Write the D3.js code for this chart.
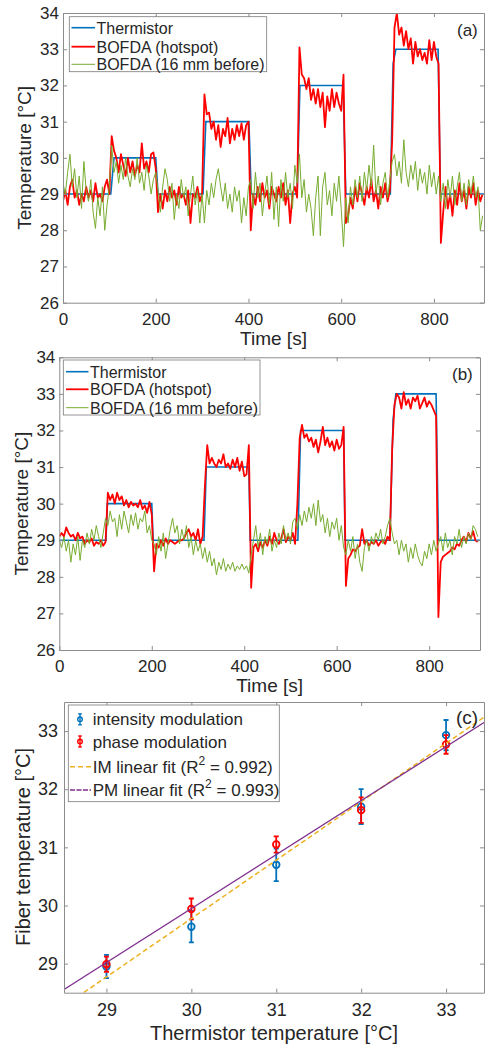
<!DOCTYPE html>
<html>
<head>
<meta charset="utf-8">
<script src="https://cdn.jsdelivr.net/npm/d3@7"></script>
<style>
  body { margin: 0; background: #fff; }
  svg text { font-family: "Liberation Sans", Arial, Helvetica, sans-serif; fill: #262626; }
</style>
</head>
<body>
<svg id="fig" width="485" height="1047"></svg>
<script>
// sampling step of the BOFDA traces [s]
const dt = 5;

// panel (a) -- thermistor set points (step times and values)
const thermA_t = [0, 103, 110, 200, 205, 302, 308, 401, 406, 505, 511, 604, 610, 706, 712, 718, 809, 814, 908];
const thermA_v = [29, 29, 30, 30, 29, 29, 31, 31, 29, 29, 32, 32, 29, 29, 32.6, 33, 33, 29, 29];

// panel (a) -- BOFDA hotspot, one value every dt seconds
const redA = [
  28.8, 29.1, 28.7, 29.2, 29.4, 28.9, 29.1, 28.7, 29.0, 28.8, 29.2, 28.9, 29.1, 28.8, 29.3, 28.9, 29.0, 28.8, 29.2, 29.4,
  29.0, 30.6, 30.2, 30.0, 29.6, 30.1, 29.8, 29.5, 30.0, 29.6, 29.9, 29.5, 29.8, 29.6, 30.4, 29.7, 29.9, 29.6, 30.1, 30.15,
  29.7, 28.5, 29.0, 28.6, 29.1, 28.8, 29.2, 28.9, 29.1, 28.7, 29.2, 28.9, 29.0, 28.7, 29.1, 28.2, 29.0, 28.9, 29.2, 28.8,
  29.0, 31.75, 31.2, 31.25, 30.8, 31.0, 30.5, 30.9, 30.3, 30.8, 30.6, 31.1, 30.4, 30.8, 30.5, 30.9, 30.6, 30.95, 30.5, 30.9,
  31.0, 28.0, 29.0, 28.7, 29.2, 28.8, 29.3, 28.9, 29.1, 28.6, 29.2, 29.0, 28.8, 29.2, 28.9, 29.3, 28.7, 29.1, 28.2, 29.0,
  29.2, 28.9, 33.05, 32.3, 32.2, 31.9, 32.2, 31.6, 31.9, 31.5, 31.9, 31.4, 31.8, 30.85, 31.7, 31.3, 31.9, 31.4, 31.8, 31.5,
  31.3, 32.3, 28.2, 28.4, 28.9, 28.6, 29.2, 28.8, 29.3, 29.0, 28.7, 29.2, 28.9, 29.4, 28.8, 29.1, 28.6, 29.2, 28.9, 29.3,
  28.8, 29.1, 30.5, 33.6, 34.0, 33.4, 33.6, 33.1, 33.5, 33.0, 33.3, 32.6, 33.2, 32.8, 33.0, 32.7, 32.9, 32.6, 33.25, 32.7,
  33.2, 32.8, 32.6, 27.65, 28.5, 29.2, 28.6, 29.0, 28.4, 29.1, 28.7, 29.3, 28.8, 29.1, 28.6, 29.2, 28.9, 29.3, 28.7, 29.1,
  28.8, 29.0
];

// panel (a) -- BOFDA 16 mm before the hotspot
const greenA = [
  29.3, 29.0, 29.6, 30.1, 29.2, 29.7, 28.9, 29.5, 28.6, 29.9, 29.1, 28.8, 29.4, 28.5, 28.05, 28.9, 28.4, 29.2, 28.0, 28.7,
  29.2, 30.35, 29.6, 29.9, 29.3, 29.8, 29.4, 30.0, 29.5, 29.2, 29.7, 29.4, 30.0, 29.3, 29.6, 29.1, 29.8, 29.5, 29.0, 29.4,
  29.6, 29.1, 28.5, 29.2, 29.7, 29.4, 28.8, 29.3, 28.3, 29.0, 28.6, 29.4, 28.9, 29.2, 28.4, 29.0, 29.5, 28.7, 29.1, 28.2,
  29.0, 28.2, 29.1, 28.7, 29.3, 28.9, 29.4, 29.7, 29.2, 28.8, 29.3, 28.6, 29.0, 28.5, 29.2, 28.8, 29.1, 28.2, 28.9, 28.4,
  29.2, 29.4, 28.6, 29.6, 28.9, 29.3, 28.4, 29.0, 29.5, 28.7, 29.6, 28.3, 29.2, 28.1, 29.4, 28.8, 29.6, 28.9, 29.3, 28.6,
  29.8, 29.3, 30.1, 28.9, 29.4, 28.5, 29.0, 28.6, 27.85, 28.9, 29.5, 27.85, 29.2, 29.6, 28.7, 29.1, 28.4, 29.3, 28.8, 29.5,
  28.6, 27.55, 28.9, 28.2, 29.2, 28.7, 29.4, 28.9, 29.5, 28.8, 29.6, 29.1, 29.8, 29.2, 30.35, 29.0, 29.5, 28.7, 29.3, 29.6,
  28.9, 29.4, 29.9, 30.1, 29.5, 29.9, 29.3, 30.5, 29.6, 29.2, 29.8, 29.4, 29.9, 29.1, 29.7, 29.3, 29.6, 29.0, 29.8, 29.2,
  29.6, 29.0, 29.5, 28.8, 29.3, 28.6, 29.4, 28.9, 29.5, 28.7, 29.2, 29.6, 28.8, 29.3, 28.7, 29.4, 29.0, 29.5, 28.9, 29.2,
  28.0, 28.4
];

// panel (b) -- thermistor set points
const thermB_t = [0, 101, 104, 200, 203, 313, 318, 410, 413, 516, 522, 615, 618, 715, 722, 728, 815, 820, 910];
const thermB_v = [29, 29, 30, 30, 29, 29, 31, 31, 29, 29, 32, 32, 29, 29, 32.3, 33, 33, 29, 29];

// panel (b) -- BOFDA hotspot
const redB = [
  29.1, 29.2, 29.1, 29.35, 29.2, 29.1, 29.15, 29.0, 29.2, 29.05, 29.1, 28.9, 29.0, 28.95, 29.05, 28.85, 28.95, 28.9, 29.0, 28.85,
  28.95, 30.3, 30.1, 30.25, 30.0, 30.3, 30.1, 30.2, 29.95, 30.1, 29.9, 30.05, 29.95, 30.0, 29.9, 30.1, 29.85, 29.95, 29.75, 30.05,
  29.7, 28.15, 28.9, 28.8, 29.0, 28.85, 29.05, 28.9, 29.0, 28.95, 28.9, 28.95, 29.0, 29.0, 29.05, 29.2, 29.3, 29.1, 29.2, 29.0,
  29.3, 28.9, 29.1, 30.5, 31.6, 31.1, 31.25, 31.1, 31.0, 31.2, 31.1, 31.35, 31.0, 31.1, 30.95, 31.2, 31.0, 31.25, 30.9, 31.15,
  30.75, 30.8, 31.6, 27.7, 28.8, 28.9, 28.7, 28.95, 28.8, 29.0, 28.85, 29.1, 28.9, 29.2, 29.0, 28.9, 29.05, 29.3, 28.95, 29.1,
  29.0, 29.2, 28.9, 30.0, 31.8, 32.15, 31.8, 31.9, 31.7, 31.8, 31.55, 31.75, 31.4, 31.7, 32.1, 31.6, 31.8, 31.55, 31.7, 31.45,
  31.75, 31.5, 31.6, 32.1, 27.75, 28.5, 28.6, 28.75, 28.7, 28.8, 28.85, 29.3, 28.9, 29.0, 28.85, 28.95, 28.9, 29.0, 28.85, 28.95,
  29.0, 28.9, 29.1, 29.0, 31.5, 32.7, 33.0, 32.9, 32.6, 33.05, 32.7, 32.85, 32.6, 32.9, 32.8, 32.95, 32.6, 32.75, 32.9, 32.65,
  32.8, 32.7, 32.55, 32.4, 26.9, 28.4, 28.55, 28.6, 28.65, 28.7, 28.8, 28.75, 28.9, 28.85, 29.0, 29.1, 28.95, 29.2, 29.05, 29.25,
  29.0, 28.95
];

// panel (b) -- BOFDA 16 mm before
const greenB = [
  29.0, 28.8, 29.1, 28.7, 29.0, 28.4, 28.9, 28.6, 29.1, 28.45, 29.0, 28.8, 29.2, 28.9, 29.3, 29.0, 29.4, 29.1, 28.8, 29.2,
  29.6, 29.4, 29.8, 29.5, 29.6, 29.1, 29.7, 29.3, 29.8, 29.5, 29.2, 29.7, 29.4, 29.75, 29.3, 29.6, 29.5, 29.8, 29.2, 29.4,
  29.0, 28.9, 28.6, 29.1, 28.7, 29.2, 28.5, 28.9, 29.3, 29.6, 29.2, 29.4, 28.9, 29.3, 29.0, 29.4, 28.8, 29.1, 28.6, 29.0,
  28.7, 28.9, 28.5, 28.8, 28.4, 28.7, 28.3, 28.5, 28.05, 28.4, 28.2, 28.5, 28.15, 28.35, 28.2, 28.4, 28.15, 28.3, 28.2, 28.35,
  28.2, 28.3, 28.1, 28.6, 29.0, 29.4, 28.8, 29.2, 28.6, 29.1, 28.9, 29.3, 28.7, 29.0, 28.8, 29.2, 28.9, 29.4, 29.0, 29.2,
  28.9, 29.5, 29.6, 29.3, 29.7, 29.4, 29.8, 29.5, 29.9, 29.6, 30.0, 29.4, 30.1, 29.5, 29.7, 29.2, 29.6, 29.1, 29.5, 29.3,
  29.6, 29.0, 29.4, 28.8, 28.6, 29.0, 28.7, 29.1, 28.5, 28.9, 28.4, 28.15, 28.8, 29.0, 28.7, 29.1, 28.9, 29.2, 29.0, 29.3,
  28.9, 29.1, 29.4, 29.6, 29.2, 28.9, 29.0, 28.6, 29.0, 28.7, 28.9, 28.4, 28.8, 28.5, 28.9, 28.6, 28.4, 28.3, 28.7, 28.5,
  28.9, 28.6, 29.0, 28.7, 28.9, 29.1, 28.7, 29.2, 28.8, 29.0, 28.6, 29.1, 28.9, 29.3, 28.8, 29.1, 28.9, 29.2, 29.0, 29.4,
  29.3, 29.1
];

const timeTicks = [0, 200, 400, 600, 800];
const tempTicks = [26, 27, 28, 29, 30, 31, 32, 33, 34];
const legendTime = ['Thermistor', 'BOFDA (hotspot)', 'BOFDA (16 mm before)'];

// panel (c) -- calibration points
const setTemp = [29, 30, 31, 32, 33];
const imMean = [28.95, 29.635, 30.70, 31.70, 32.93];
const imErr = [0.20, 0.27, 0.28, 0.30, 0.26];
const pmMean = [28.99, 29.94, 31.05, 31.64, 32.77];
const pmErr = [0.13, 0.18, 0.14, 0.22, 0.16];
const imFit = [1.0045, -0.3595];   // slope, intercept
const pmFit = [0.928, 2.108];
const calTicks = [29, 30, 31, 32, 33];

const C = { blue: '#0072BD', red: '#FF0000', green: '#77AC30', orange: '#EDB120', purple: '#7E2F8E' };
const axisColor = '#8c8c8c';
const fontFam = '"Liberation Sans", Arial, Helvetica, sans-serif';

const svg = d3.select('#fig');

function styleAxis(sel, font) {
  sel.attr('font-family', fontFam).attr('font-size', font);
  sel.select('.domain').attr('stroke', axisColor);
  sel.selectAll('.tick line').attr('stroke', axisColor);
  sel.selectAll('.tick text').attr('fill', '#262626');
}

function drawAxes(g, x, y, xTicks, yTicks, o) {
  const [x0, x1] = x.range();
  const [y0, y1] = y.range();
  const fmt = d3.format('d');
  g.append('g').attr('transform', 'translate(0,' + y0 + ')')
    .call(d3.axisBottom(x).tickValues(xTicks).tickFormat(fmt).tickSize(-4).tickSizeOuter(0).tickPadding(o.xPad))
    .call(styleAxis, o.font);
  g.append('g').attr('transform', 'translate(0,' + y1 + ')')
    .call(d3.axisTop(x).tickValues(xTicks).tickSize(-4).tickSizeOuter(0).tickFormat(''))
    .call(styleAxis, o.font);
  g.append('g').attr('transform', 'translate(' + x0 + ',0)')
    .call(d3.axisLeft(y).tickValues(yTicks).tickFormat(fmt).tickSize(-4).tickSizeOuter(0).tickPadding(o.yPad))
    .call(styleAxis, o.font);
  g.append('g').attr('transform', 'translate(' + x1 + ',0)')
    .call(d3.axisRight(y).tickValues(yTicks).tickSize(-4).tickSizeOuter(0).tickFormat(''))
    .call(styleAxis, o.font);
}

function addClip(id, x, y) {
  const [x0, x1] = x.range();
  const [y0, y1] = y.range();
  svg.append('clipPath').attr('id', id).append('rect')
    .attr('x', x0).attr('y', y1).attr('width', x1 - x0).attr('height', y0 - y1);
}

function timePanel(p) {
  const x = d3.scaleLinear().domain([0, p.xMax]).range([p.left, p.right]);
  const y = d3.scaleLinear().domain([26, 34]).range([p.bottom, p.top]);
  const g = svg.append('g');
  addClip('clip-' + p.tag, x, y);

  const line = d3.line().x(d => x(d[0])).y(d => y(d[1]));
  const series = vals => vals.map((v, i) => [i * dt, v]);

  const plot = g.append('g').attr('clip-path', 'url(#clip-' + p.tag + ')');
  plot.append('path').datum(d3.zip(p.thermT, p.thermV)).attr('d', line)
    .attr('fill', 'none').attr('stroke', C.blue).attr('stroke-width', 1.6);
  plot.append('path').datum(series(p.red)).attr('d', line)
    .attr('fill', 'none').attr('stroke', C.red).attr('stroke-width', 1.8).attr('stroke-linejoin', 'round');
  plot.append('path').datum(series(p.green)).attr('d', line)
    .attr('fill', 'none').attr('stroke', C.green).attr('stroke-width', 1).attr('stroke-linejoin', 'round');

  drawAxes(g, x, y, timeTicks, tempTicks, { font: 17, xPad: 10, yPad: 4 });

  g.append('text').attr('x', (p.left + p.right) / 2).attr('y', p.xLabelY)
    .attr('text-anchor', 'middle').attr('font-size', 19).text('Time [s]');
  g.append('text').attr('transform', 'translate(' + p.yLabelX + ',' + (p.top + p.bottom) / 2 + ') rotate(-90)')
    .attr('text-anchor', 'middle').attr('font-size', 19).text('Temperature [°C]');
  g.append('text').attr('x', p.tagX).attr('y', p.tagY).attr('font-size', 17).text('(' + p.tag + ')');

  // legend
  const L = p.legend;
  g.append('rect').attr('x', L.x0).attr('y', L.y0).attr('width', L.x1 - L.x0).attr('height', L.y1 - L.y0)
    .attr('fill', '#fff').attr('stroke', '#7a7a7a').attr('stroke-width', 0.8);
  const cols = [C.blue, C.red, C.green];
  const widths = [1.6, 1.8, 1];
  legendTime.forEach((name, i) => {
    g.append('line').attr('x1', L.lx0).attr('x2', L.lx1).attr('y1', L.rows[i]).attr('y2', L.rows[i])
      .attr('stroke', cols[i]).attr('stroke-width', widths[i]);
    g.append('text').attr('x', L.tx).attr('y', L.rows[i] + 5.8).attr('font-size', 16).text(name);
  });
}

timePanel({
  tag: 'a', left: 63, right: 484, top: 13, bottom: 302.7, xMax: 908,
  thermT: thermA_t, thermV: thermA_v, red: redA, green: greenA,
  xLabelY: 345, yLabelX: 31, tagX: 457, tagY: 36,
  legend: { x0: 69.3, y0: 16.7, x1: 266.7, y1: 71.7, lx0: 71.5, lx1: 95, tx: 96.5, rows: [27.7, 46.7, 64.3] }
});

timePanel({
  tag: 'b', left: 59.3, right: 480, top: 357.3, bottom: 650, xMax: 910,
  thermT: thermB_t, thermV: thermB_v, red: redB, green: greenB,
  xLabelY: 692, yLabelX: 28, tagX: 452, tagY: 380,
  legend: { x0: 63.3, y0: 360, x1: 260, y1: 415, lx0: 66, lx1: 88.5, tx: 90, rows: [371.7, 389.3, 407.7] }
});

// ---- panel (c) ----
(function() {
  const x = d3.scaleLinear().domain([28.5, 33.447]).range([64, 484]);
  const y = d3.scaleLinear().domain([28.5, 33.5]).range([992.7, 702]);
  const g = svg.append('g');
  addClip('clip-c', x, y);
  const plot = g.append('g').attr('clip-path', 'url(#clip-c)');

  const xs = x.domain();
  const drawFit = (f, color, dash, w) => {
    plot.append('path').datum(xs.map(v => [v, f[0] * v + f[1]]))
      .attr('d', d3.line().x(d => x(d[0])).y(d => y(d[1])))
      .attr('fill', 'none').attr('stroke', color).attr('stroke-width', w)
      .attr('stroke-dasharray', dash);
  };

  const drawErr = (mean, err, color) => {
    const pts = setTemp.map((t, i) => ({ t: t, m: mean[i], e: err[i] }));
    const eg = plot.append('g').attr('stroke', color).attr('stroke-width', 1.8).attr('fill', 'none');
    pts.forEach(d => {
      const cx = x(d.t), top = y(d.m + d.e), bot = y(d.m - d.e);
      eg.append('line').attr('x1', cx).attr('x2', cx).attr('y1', top).attr('y2', bot);
      eg.append('line').attr('x1', cx - 2.5).attr('x2', cx + 2.5).attr('y1', top).attr('y2', top);
      eg.append('line').attr('x1', cx - 2.5).attr('x2', cx + 2.5).attr('y1', bot).attr('y2', bot);
      eg.append('circle').attr('cx', cx).attr('cy', y(d.m)).attr('r', 3.3);
    });
  };

  drawErr(imMean, imErr, C.blue);
  drawErr(pmMean, pmErr, C.red);
  drawFit(imFit, C.orange, '5,3', 1.5);
  drawFit(pmFit, C.purple, null, 1.3);

  drawAxes(g, x, y, calTicks, calTicks, { font: 18, xPad: 11, yPad: 6 });

  g.append('text').attr('x', 274).attr('y', 1040).attr('text-anchor', 'middle')
    .attr('font-size', 20).text('Thermistor temperature [°C]');
  g.append('text').attr('transform', 'translate(30,847) rotate(-90)')
    .attr('text-anchor', 'middle').attr('font-size', 20).text('Fiber temperature [°C]');
  g.append('text').attr('x', 456).attr('y', 724).attr('font-size', 19).text('(c)');

  // legend
  g.append('rect').attr('x', 68.3).attr('y', 705).attr('width', 211).attr('height', 96.7)
    .attr('fill', '#fff').attr('stroke', '#7a7a7a').attr('stroke-width', 0.8);
  const rows = [719.3, 741.5, 766.7, 790];
  [[C.blue, 'intensity modulation'], [C.red, 'phase modulation']].forEach((d, i) => {
    const cy = rows[i], cx = 80;
    const lg = g.append('g').attr('stroke', d[0]).attr('stroke-width', 1.4).attr('fill', 'none');
    lg.append('line').attr('x1', cx).attr('x2', cx).attr('y1', cy - 5.5).attr('y2', cy + 5.5);
    lg.append('line').attr('x1', cx - 1.8).attr('x2', cx + 1.8).attr('y1', cy - 5.5).attr('y2', cy - 5.5);
    lg.append('line').attr('x1', cx - 1.8).attr('x2', cx + 1.8).attr('y1', cy + 5.5).attr('y2', cy + 5.5);
    lg.append('circle').attr('cx', cx).attr('cy', cy).attr('r', 2.3);
    g.append('text').attr('x', 92.7).attr('y', cy + 6).attr('font-size', 17).text(d[1]);
  });
  [[C.orange, '5,3', 'IM linear fit (R', ' = 0.992)'], [C.purple, '5,1.5', 'PM linear fit (R', ' = 0.993)']].forEach((d, i) => {
    const cy = rows[i + 2];
    g.append('line').attr('x1', 70).attr('x2', 91).attr('y1', cy).attr('y2', cy)
      .attr('stroke', d[0]).attr('stroke-width', 1.4).attr('stroke-dasharray', d[1]);
    const t = g.append('text').attr('x', 92.7).attr('y', cy + 6).attr('font-size', 17);
    t.append('tspan').text(d[2]);
    t.append('tspan').attr('font-size', 12).attr('dy', -8).text('2');
    t.append('tspan').attr('dy', 8).text(d[3]);
  });
})();
</script>
</body>
</html>
